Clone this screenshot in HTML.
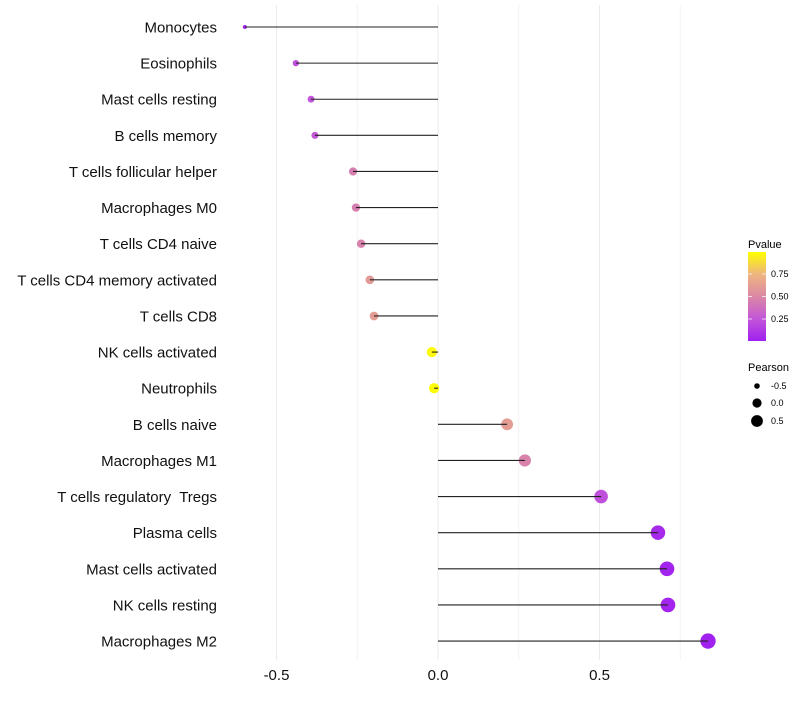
<!DOCTYPE html>
<html><head><meta charset="utf-8"><style>
body{margin:0;background:#fff;}
svg{font-family:"Liberation Sans",sans-serif;}
text{white-space:pre;}
</style></head><body>
<svg id="chart" width="800" height="700">
<defs>
<linearGradient id="pg" x1="0" y1="1" x2="0" y2="0">
<stop offset="0" stop-color="#A020F0"/>
<stop offset="0.25" stop-color="#C356D8"/>
<stop offset="0.5" stop-color="#DB88A6"/>
<stop offset="0.75" stop-color="#EEB47F"/>
<stop offset="1" stop-color="#FFFF00"/>
</linearGradient>
</defs>
<g id="grid"></g>
<g id="marks"></g>
<g id="ylabels"></g>
<g id="xlabels"></g>
<g>
<text x="748" y="248" font-size="11">Pvalue</text>
<rect x="748" y="252" width="18" height="89" fill="url(#pg)"/>
<g stroke="#fff" stroke-width="1" opacity="0.7"><line x1="748" y1="274" x2="752" y2="274"/><line x1="762" y1="274" x2="766" y2="274"/><line x1="748" y1="296.5" x2="752" y2="296.5"/><line x1="762" y1="296.5" x2="766" y2="296.5"/><line x1="748" y1="319" x2="752" y2="319"/><line x1="762" y1="319" x2="766" y2="319"/></g>
<text x="771" y="277" font-size="9">0.75</text>
<text x="771" y="299.5" font-size="9">0.50</text>
<text x="771" y="322" font-size="9">0.25</text>
<text x="748" y="371" font-size="11">Pearson</text>
<circle cx="757" cy="386" r="2.8" fill="#000"/>
<circle cx="757" cy="403" r="4.6" fill="#000"/>
<circle cx="757" cy="421" r="5.9" fill="#000"/>
<text x="771" y="389" font-size="9">-0.5</text>
<text x="771" y="406" font-size="9">0.0</text>
<text x="771" y="424" font-size="9">0.5</text>
</g>
</svg>
<script>
const categories=["Monocytes","Eosinophils","Mast cells resting","B cells memory","T cells follicular helper","Macrophages M0","T cells CD4 naive","T cells CD4 memory activated","T cells CD8","NK cells activated","Neutrophils","B cells naive","Macrophages M1","T cells regulatory  Tregs","Plasma cells","Mast cells activated","NK cells resting","Macrophages M2"];
const pearson=[-0.598,-0.44,-0.393,-0.381,-0.263,-0.254,-0.238,-0.211,-0.198,-0.019,-0.012,0.214,0.269,0.505,0.681,0.709,0.712,0.836];
const pvalues=[0.02,0.22,0.24,0.26,0.45,0.45,0.47,0.6,0.62,0.98,0.99,0.62,0.47,0.22,0.04,0.02,0.02,0.01];
const xTicks=[-0.5,0,0.5];
const xTickLabels=["-0.5","0.0","0.5"];
const xMinor=[-0.25,0.25,0.75];
const NS="http://www.w3.org/2000/svg";
const X=v=>438+v*323;
const Y=i=>27+i*36.12;
const R=v=>Math.sqrt(Math.max(0.5,4+38*(v+0.6)));
const stops=[[0,[160,32,240]],[0.25,[195,86,216]],[0.5,[219,136,166]],[0.75,[238,180,127]],[1,[255,255,0]]];
function col(p){for(let k=1;k<stops.length;k++){if(p<=stops[k][0]){const a=stops[k-1],b=stops[k];const t=(p-a[0])/(b[0]-a[0]);const c=a[1].map((x,j)=>Math.round(x+(b[1][j]-x)*t));return `rgb(${c})`;}}return "rgb(255,255,0)";}
function mk(tag,attrs,parent){const e=document.createElementNS(NS,tag);for(const k in attrs)e.setAttribute(k,attrs[k]);parent.appendChild(e);return e;}
const grid=document.getElementById('grid'),marks=document.getElementById('marks'),yl=document.getElementById('ylabels'),xl=document.getElementById('xlabels');
xMinor.forEach(v=>{const l=mk('line',{x1:X(v),x2:X(v),y1:5,y2:660,stroke:'#f4f4f4','stroke-width':1},grid);

});
xTicks.forEach((v,i)=>{const l=mk('line',{x1:X(v),x2:X(v),y1:5,y2:660,stroke:'#ebebeb','stroke-width':1},grid);


const t=mk('text',{x:X(v),y:680,'font-size':15,'text-anchor':'middle',fill:'#111'},xl);t.textContent=xTickLabels[i];

});
categories.forEach((c,i)=>{const y=Y(i);
const t=mk('text',{x:217,y:y+5.5,'font-size':15,'text-anchor':'end',fill:'#111'},yl);t.textContent=c;


const p=mk('circle',{cx:X(pearson[i]),cy:y,r:R(pearson[i]),fill:col(pvalues[i])},marks);


const s=mk('line',{x1:X(0),x2:X(pearson[i]),y1:y,y2:y,stroke:'#222','stroke-width':1.1},marks);

});
</script>
</body></html>
